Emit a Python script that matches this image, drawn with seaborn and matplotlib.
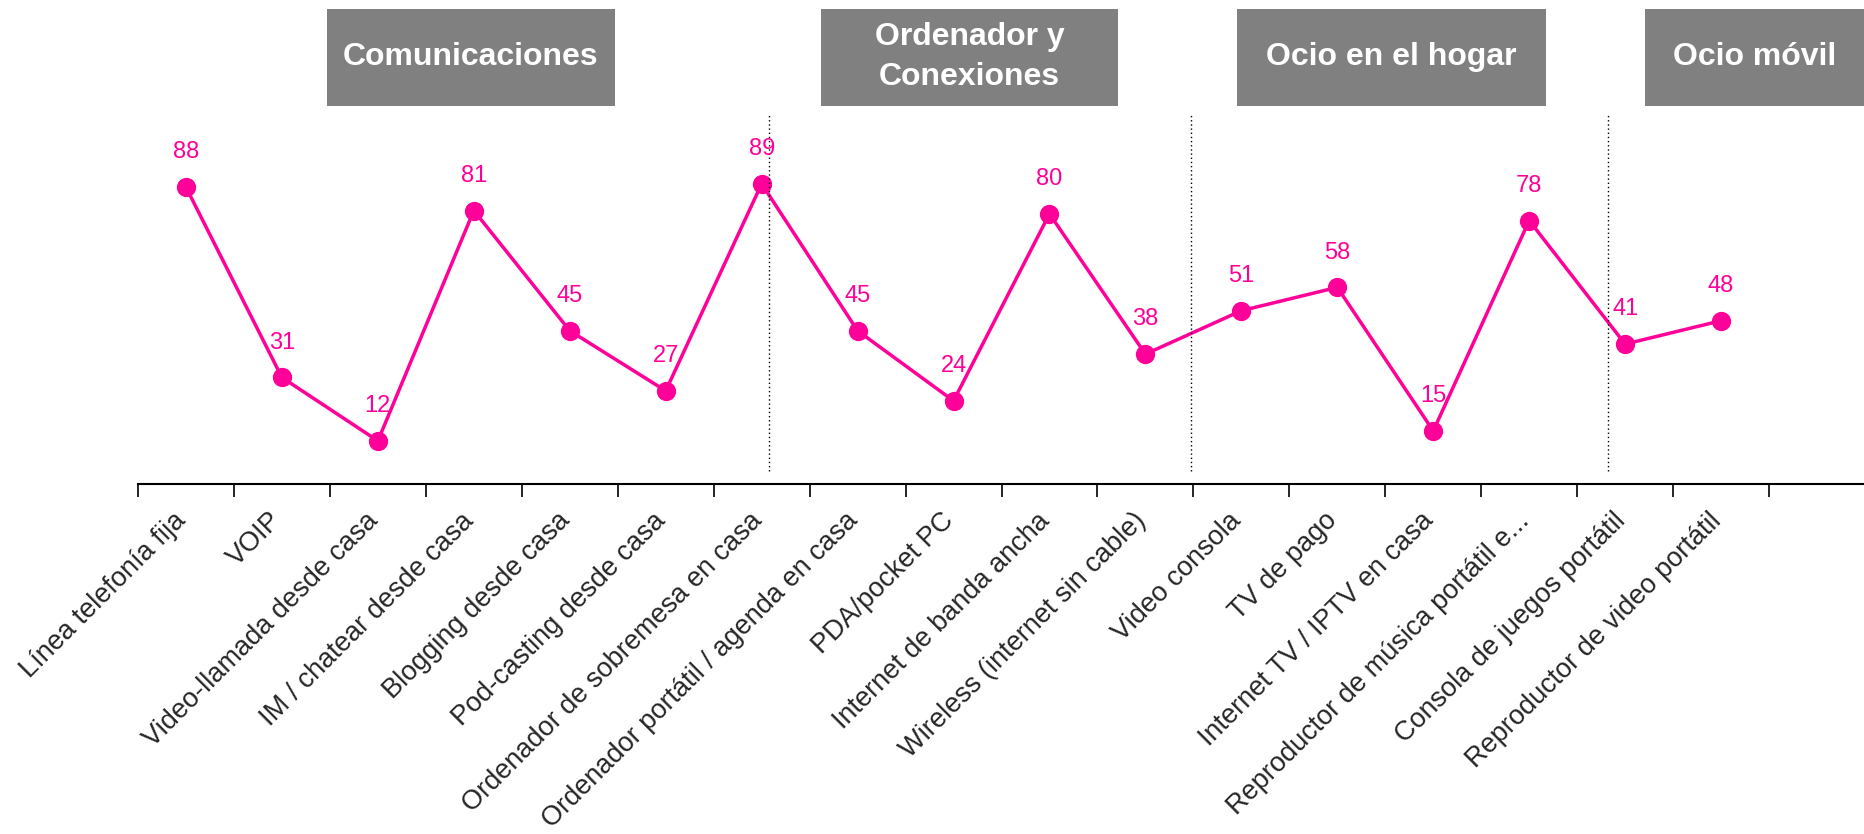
"""Line chart of device/service penetration by category group."""

import matplotlib
matplotlib.use("Agg")
import matplotlib.pyplot as plt
from matplotlib.patches import Rectangle
from matplotlib.transforms import ScaledTranslation
import numpy as np
import pandas as pd
import seaborn as sns

# Data
categories = [
    "Línea telefonía fija",
    "VOIP",
    "Video-llamada desde casa",
    "IM / chatear desde casa",
    "Blogging desde casa",
    "Pod-casting desde casa",
    "Ordenador de sobremesa en casa",
    "Ordenador portátil / agenda en casa",
    "PDA/pocket PC",
    "Internet de banda ancha",
    "Wireless (internet sin cable)",
    "Video consola",
    "TV de pago",
    "Internet TV / IPTV en casa",
    "Reproductor de música portátil e...",
    "Consola de juegos portátil",
    "Reproductor de video portátil",
]
values = [88, 31, 12, 81, 45, 27, 89, 45, 24, 80, 38, 51, 58, 15, 78, 41, 48]
group_titles = ["Comunicaciones", "Ordenador y\nConexiones", "Ocio en el hogar", "Ocio móvil"]
group_separators = [6.08, 10.47, 14.82]

pink = "#FF0099"
box_grey = "#808080"

sns.set_style("white")
plt.rcParams["font.family"] = ["Liberation Sans", "DejaVu Sans"]

df = pd.DataFrame({"categoria": categories, "valor": values})

fig = plt.figure(figsize=(18.65, 8.34), dpi=100)
ax = fig.add_axes([0.074, 0.4197, 0.926, 0.524])

sns.pointplot(
    data=df,
    x="categoria",
    y="valor",
    order=categories,
    color=pink,
    markers="o",
    markersize=12,
    linewidth=2.5,
    ax=ax,
)

# value labels
for i, v in enumerate(values):
    ax.annotate(
        str(v),
        xy=(i, v),
        xytext=(0, 25),
        textcoords="offset points",
        ha="center",
        va="center",
        color=pink,
        fontsize=17,
    )

# dotted separators between groups
ax.vlines(group_separators, 3, 110, colors="black", linestyles=(0, (1, 2)), linewidth=1)

ax.set_xlim(-0.5, 17.5)
ax.set_ylim(-0.9, 130)
ax.set_xlabel("")
ax.set_ylabel("")
ax.set_yticks([])

# category labels
ax.set_xticks(np.arange(len(categories)))
ax.set_xticklabels(categories, rotation=45, ha="right", va="top",
                   rotation_mode="anchor", fontsize=19.5)
ax.tick_params(axis="x", which="major", length=0, pad=17)
shift = ScaledTranslation(-0.13, 0.0, fig.dpi_scale_trans)
for lab in ax.get_xticklabels():
    lab.set_transform(lab.get_transform() + shift)
ax.set_xticks(np.arange(-0.5, 18, 1), minor=True)
ax.tick_params(axis="x", which="minor", bottom=True, length=9, width=1.2,
               direction="out", color="black")

for side in ["top", "right", "left"]:
    ax.spines[side].set_visible(False)
ax.spines["bottom"].set_color("black")
ax.spines["bottom"].set_linewidth(1.5)

# group header boxes (figure pixels)
W, H = 1865, 834
boxes = [(327, 615), (821, 1118), (1237, 1546), (1645, 1865)]
for (x0, x1), title in zip(boxes, group_titles):
    fig.add_artist(Rectangle((x0 / W, 1 - 106 / H), (x1 - x0) / W, 96.5 / H,
                             transform=fig.transFigure, facecolor=box_grey,
                             edgecolor="none"))
    fig.text((x0 + x1) / 2 / W, 1 - 57 / H, title, ha="center", va="center",
             color="white", fontsize=23, fontweight="bold", linespacing=1.4)

plt.savefig("out.png", dpi=100)
